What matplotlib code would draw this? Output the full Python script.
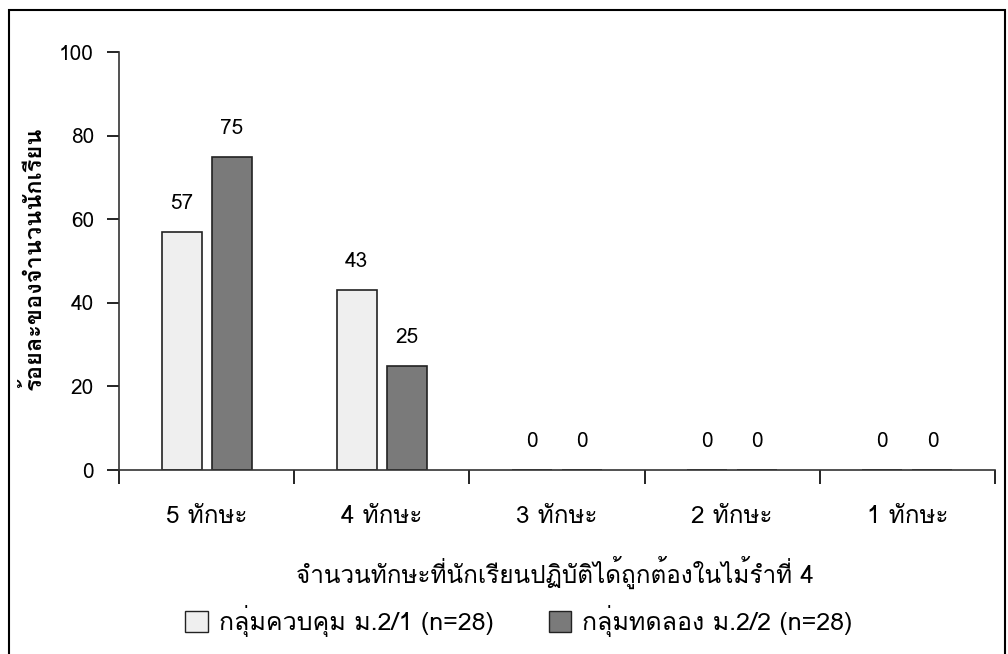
import matplotlib
matplotlib.use("Agg")
import matplotlib.pyplot as plt
from matplotlib.patches import Rectangle
import numpy as np

# data
categories = ["5 ทักษะ", "4 ทักษะ", "3 ทักษะ", "2 ทักษะ", "1 ทักษะ"]
control = [57, 43, 0, 0, 0]
experiment = [75, 25, 0, 0, 0]
series_names = ["กลุ่มควบคุม ม.2/1 (n=28)", "กลุ่มทดลอง ม.2/2 (n=28)"]
y_label = "ร้อยละของจำนวนนักเรียน"
x_label = "จำนวนทักษะที่นักเรียนปฏิบัติได้ถูกต้องในไม้รำที่ 4"

# Thai needs a Thai font; Loma looks close to Tahoma
plt.rcParams["font.family"] = ["Loma", "Sarabun", "DejaVu Sans"]

fig = plt.figure(figsize=(10.08, 6.54), dpi=100)
ax = fig.add_axes([119 / 1008, 1 - 470 / 654, (995 - 119) / 1008, (470 - 52) / 654])

x = np.arange(len(categories))
w = 0.228
off = 0.143
ax.bar(x - off, control, w, color="#efefef", edgecolor="#222222", linewidth=1.2)
ax.bar(x + off, experiment, w, color="#7a7a7a", edgecolor="#222222", linewidth=1.2)

for i in range(len(categories)):
    ax.text(x[i] - off, control[i] + 4.5, str(control[i]), ha="center", va="bottom", fontsize=15)
    ax.text(x[i] + off, experiment[i] + 4.5, str(experiment[i]), ha="center", va="bottom", fontsize=15)

ax.set_xlim(-0.5, len(categories) - 0.5)
ax.set_ylim(0, 100)
ax.set_yticks([0, 20, 40, 60, 80, 100])
ax.tick_params(axis="y", labelsize=15, length=9, width=1.2, direction="out", pad=9)
ax.set_xticks(np.arange(len(categories) + 1) - 0.5)
ax.set_xticklabels([])
ax.set_xticks(x, minor=True)
ax.set_xticklabels(categories, minor=True, fontsize=17.5)
ax.tick_params(axis="x", which="major", length=10, width=1.2)
ax.tick_params(axis="x", which="minor", length=0, pad=25)
for s in ["top", "right"]:
    ax.spines[s].set_visible(False)
for s in ["left", "bottom"]:
    ax.spines[s].set_linewidth(1.2)
    ax.spines[s].set_color("#333333")

fig.text(34 / 1008, 1 - 258 / 654, y_label, rotation=90, ha="center", va="center",
         fontsize=17, fontweight="bold")
fig.text(555 / 1008, 1 - 572 / 654, x_label, ha="center", va="center", fontsize=17.5)

# legend
leg = fig.legend(
    handles=[Rectangle((0, 0), 1, 1, fc="#efefef", ec="#222222"),
             Rectangle((0, 0), 1, 1, fc="#7a7a7a", ec="#222222")],
    labels=series_names, loc="center", bbox_to_anchor=(519 / 1008, 1 - 621 / 654),
    ncol=2, frameon=False, fontsize=18, handlelength=0.9, handleheight=0.9,
    columnspacing=2.2, handletextpad=0.45)

# outer frame
fig.patches.append(Rectangle((9 / 1008, -0.01), (1005 - 9) / 1008, 1 - 10 / 654 + 0.01,
                             transform=fig.transFigure, fill=False, ec="black", lw=1.5))

fig.savefig("out.png", dpi=100)
